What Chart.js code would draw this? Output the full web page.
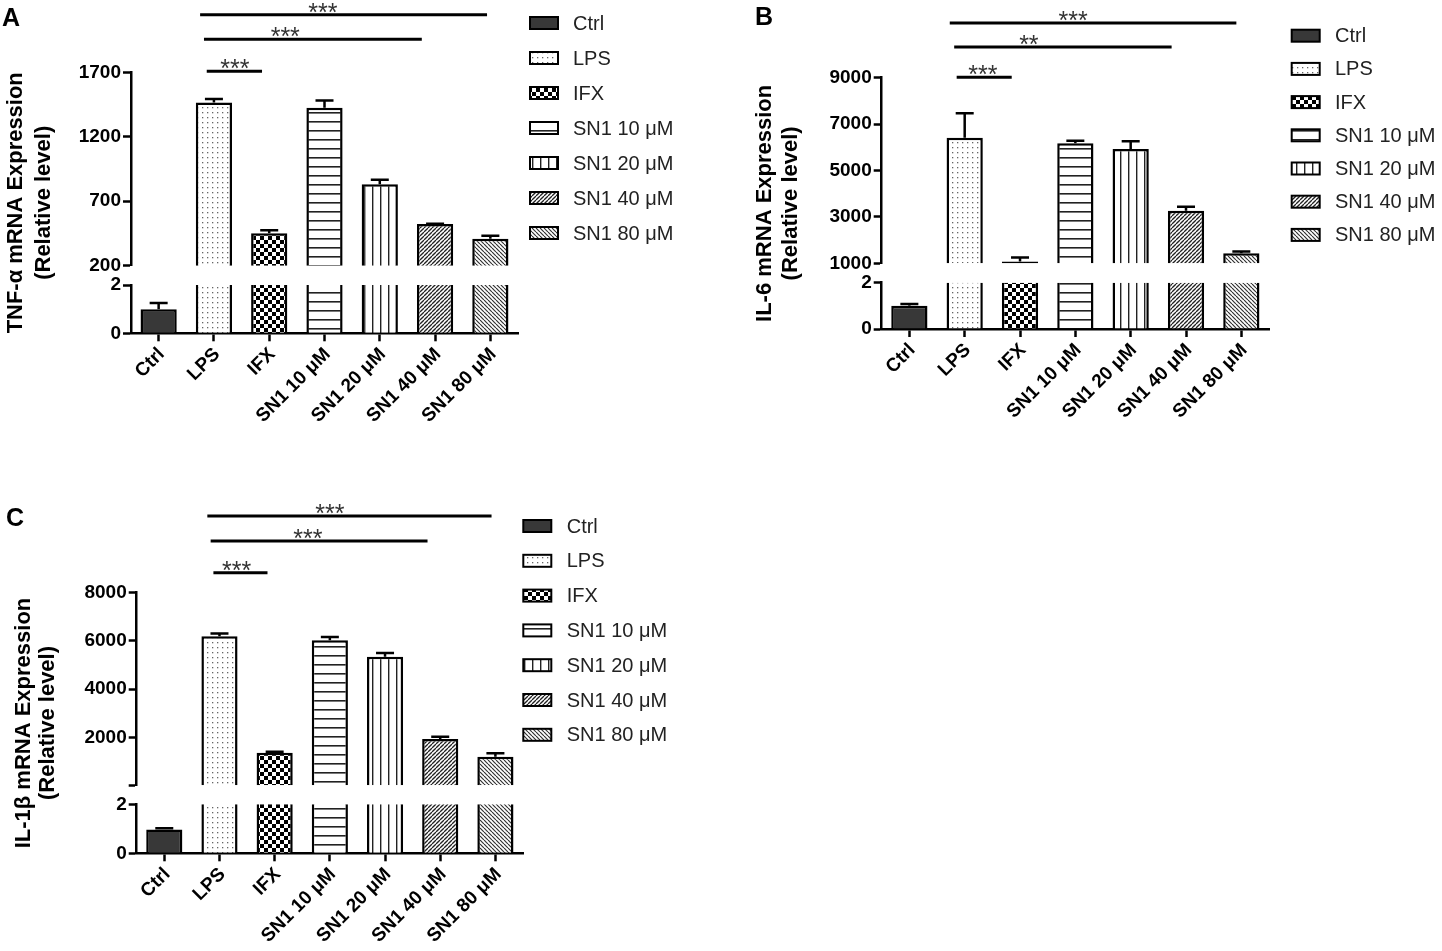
<!DOCTYPE html>
<html>
<head>
<meta charset="utf-8">
<script src="https://cdn.jsdelivr.net/npm/chart.js@4.4.1/dist/chart.umd.min.js"></script>
<style>
html,body{margin:0;padding:0;background:#fff;}
body{width:1442px;height:951px;position:relative;overflow:hidden;font-family:"Liberation Sans",Arial,sans-serif;}
canvas{position:absolute;}
.letter{position:absolute;font-weight:bold;font-size:25px;line-height:1;color:#000;}
</style>
</head>
<body>
<canvas id="cA" width="740" height="475" style="left:0;top:0"></canvas>
<canvas id="cB" width="702" height="475" style="left:740px;top:0"></canvas>
<canvas id="cC" width="740" height="471" style="left:0;top:480px"></canvas>
<div class="letter" style="left:2px;top:5px">A</div>
<div class="letter" style="left:755px;top:4px">B</div>
<div class="letter" style="left:6px;top:505px">C</div>
<script>
// ---------- data ----------
const categories = ['Ctrl', 'LPS', 'IFX', 'SN1 10 μM', 'SN1 20 μM', 'SN1 40 μM', 'SN1 80 μM'];

const tnfMean = [1.0, 1466, 451, 1425, 831, 523, 409];
const tnfSem  = [0.25, 26, 23, 57, 36, 3, 23];
const il6Mean = [1.0, 6414, 1075, 6172, 5927, 3267, 1430];
const il6Sem  = [0.08, 1050, 170, 110, 330, 170, 80];
const il1bMean = [0.97, 6200, 1366, 6033, 5342, 1934, 1201];
const il1bSem  = [0.05, 110, 40, 130, 160, 90, 140];

const lowTicks = [0, 2];
const lowLabels = ['0', '2'];
const tnfTopTicks = [200, 700, 1200, 1700];
const tnfTopLabels = ['200', '700', '1200', '1700'];
const il6TopTicks = [1000, 3000, 5000, 7000, 9000];
const il6TopLabels = ['1000', '3000', '5000', '7000', '9000'];
const il1bTopTicks = [0, 2000, 4000, 6000, 8000];
const il1bTopLabels = ['', '2000', '4000', '6000', '8000'];

const tnfTitle = ['TNF-α mRNA Expression', '(Relative level)'];
const il6Title = ['IL-6 mRNA Expression', '(Relative level)'];
const il1bTitle = ['IL-1β mRNA Expression', '(Relative level)'];

// significance brackets (category units / data units of the upper axis)
const tnfSigFrom = [0.87, 0.82, 0.75];
const tnfSigTo = [1.87, 4.76, 5.94];
const tnfSigLevel = [1708, 1956, 2147];
const tnfSigText = ['***', '***', '***'];
const tnfSigTextAt = [1.38, 2.29, 2.97];

const il6SigFrom = [0.855, 0.81, 0.73];
const il6SigTo = [1.85, 4.74, 5.91];
const il6SigLevel = [9017, 10323, 11358];
const il6SigText = ['***', '**', '***'];
const il6SigTextAt = [1.33, 2.16, 2.96];

const il1bSigFrom = [0.89, 0.84, 0.78];
const il1bSigTo = [1.87, 4.77, 5.93];
const il1bSigLevel = [8829, 10143, 11179];
const il1bSigText = ['***', '***', '***'];
const il1bSigTextAt = [1.31, 2.6, 3.0];

// ---------- styles ----------
const FONT = '"Liberation Sans", Arial, Helvetica, sans-serif';
Chart.defaults.font.family = FONT;
Chart.defaults.color = '#000';

function tile(w, h, draw) {
  const c = document.createElement('canvas');
  c.width = w; c.height = h;
  const g = c.getContext('2d');
  g.fillStyle = '#fff';
  g.fillRect(0, 0, w, h);
  draw(g, w, h);
  return g.createPattern(c, 'repeat');
}
function hatch(n, forward, lw, color) {
  return tile(n, n, (g) => {
    g.strokeStyle = color; g.lineWidth = lw;
    for (const k of [-n, 0, n]) {
      g.beginPath();
      if (forward) { g.moveTo(k, n); g.lineTo(k + n, 0); }
      else { g.moveTo(k, 0); g.lineTo(k + n, n); }
      g.stroke();
    }
  });
}
const fills = [
  '#383838',
  tile(5, 5, (g) => { g.fillStyle = '#666'; g.fillRect(2, 2, 1.3, 1.3); }),
  tile(8, 8, (g) => { g.fillStyle = '#000'; g.fillRect(0, 0, 4, 4); g.fillRect(4, 4, 4, 4); }),
  tile(4, 9, (g) => { g.fillStyle = '#222'; g.fillRect(0, 4, 4, 1.6); }),
  tile(8, 4, (g) => { g.fillStyle = '#222'; g.fillRect(4, 0, 1.4, 4); }),
  hatch(4, true, 1.3, '#222'),
  hatch(4, false, 1.2, '#333')
];
const LOW_MAX = lowTicks[lowTicks.length - 1];

// ---------- plugins ----------
const clipPlugin = {
  id: 'sectionClip',
  beforeDatasetDraw(chart, args) {
    const ys = chart.scales[args.meta.yAxisID];
    const a = chart.chartArea;
    const ctx = chart.ctx;
    ctx.save();
    ctx.beginPath();
    ctx.rect(a.left - 5, ys.top, a.right - a.left + 10, ys.bottom - ys.top);
    ctx.clip();
  },
  afterDatasetDraw(chart) { chart.ctx.restore(); }
};

function errPlugin(mean, sem) {
  return {
    id: 'errBars',
    afterDatasetsDraw(chart) {
      const ctx = chart.ctx, x = chart.scales.x, yT = chart.scales.yTop, yB = chart.scales.yBot;
      ctx.save();
      ctx.strokeStyle = '#000';
      ctx.lineWidth = 2.5;
      mean.forEach((m, i) => {
        const ys = m > LOW_MAX ? yT : yB;
        const px = x.getPixelForValue(i);
        const y0 = ys.getPixelForValue(m), y1 = ys.getPixelForValue(m + sem[i]);
        ctx.beginPath();
        ctx.moveTo(px, y0); ctx.lineTo(px, y1);
        ctx.moveTo(px - 9, y1); ctx.lineTo(px + 9, y1);
        ctx.stroke();
      });
      ctx.restore();
    }
  };
}

function sigPlugin(from, to, level, text, at) {
  return {
    id: 'sigBars',
    afterDraw(chart) {
      const ctx = chart.ctx, x = chart.scales.x, y = chart.scales.yTop;
      ctx.save();
      ctx.strokeStyle = '#000';
      ctx.lineWidth = 3;
      ctx.fillStyle = '#333';
      ctx.font = '25px ' + FONT;
      ctx.textAlign = 'center';
      ctx.textBaseline = 'alphabetic';
      level.forEach((lv, i) => {
        const py = y.getPixelForValue(lv);
        ctx.beginPath();
        ctx.moveTo(x.getPixelForValue(from[i]), py);
        ctx.lineTo(x.getPixelForValue(to[i]), py);
        ctx.stroke();
        ctx.fillText(text[i], x.getPixelForValue(at[i]), py + 6);
      });
      ctx.restore();
    }
  };
}

function legendPlugin(lg) {
  return {
    id: 'sideLegend',
    afterDraw(chart) {
      const ctx = chart.ctx;
      ctx.save();
      ctx.font = '20px ' + FONT;
      ctx.textBaseline = 'middle';
      ctx.textAlign = 'left';
      categories.forEach((c, i) => {
        const cy = lg.y0 + i * lg.dy;
        ctx.fillStyle = fills[i];
        ctx.fillRect(lg.lx, cy - 6, 28, 12);
        ctx.lineWidth = 2;
        ctx.strokeStyle = '#000';
        ctx.strokeRect(lg.lx, cy - 6, 28, 12);
        ctx.fillStyle = '#222';
        ctx.fillText(c, lg.tx, cy + 1);
      });
      ctx.restore();
    }
  };
}

// ---------- panel builder ----------
function makePanel(id, mean, sem, topTicks, topLabels, title, plugins, L) {
  const canvas = document.getElementById(id);
  const W = canvas.width, H = canvas.height;
  const titleW = 2 * L.titleLH + L.titlePad;
  const fixW = (s) => { s.width = L.axisX - titleW; };
  const tickFont = {size: 19, weight: 'bold'};
  const grid = () => ({display: true, drawOnChartArea: false, drawTicks: true, tickLength: 8, tickWidth: 2.5, tickColor: '#000'});
  const border = () => ({display: true, color: '#000', width: 2.5});
  const ds = (axis, values) => ({
    data: values, yAxisID: axis, xAxisID: 'x',
    backgroundColor: fills, borderColor: '#000', borderWidth: 2.5,
    borderSkipped: 'start', grouped: false, barPercentage: 0.655, categoryPercentage: 1
  });
  // bars whose value lies above the axis break are also shown in the upper section
  const upper = mean.map(v => (v > LOW_MAX ? v : null));
  return new Chart(canvas, {
    type: 'bar',
    data: {labels: categories, datasets: [ds('yTop', upper), ds('yBot', mean)]},
    options: {
      responsive: false,
      animation: false,
      events: [],
      layout: {padding: {left: 0, top: L.top, right: W - L.right, bottom: 0}},
      plugins: {
        legend: {display: false},
        tooltip: {enabled: false},
        title: {
          display: true, position: 'left', fullSize: false, text: title, color: '#000',
          font: {size: 22, weight: 'bold', lineHeight: L.titleLH / 22},
          padding: {top: L.titlePad, bottom: 0}
        }
      },
      scales: {
        x: {
          type: 'category', offset: true,
          grid: Object.assign(grid(), {offset: false}),
          border: border(),
          ticks: {font: {size: 19, weight: 'bold'}, color: '#000', minRotation: 45, maxRotation: 45, autoSkip: false, padding: 2, labelOffset: 3},
          afterFit: (s) => { s.height = H - L.bottom; }
        },
        yBot: {
          type: 'linear', position: 'left', stack: 'y', stackWeight: L.weights[2], weight: 1,
          min: lowTicks[0], max: LOW_MAX,
          afterBuildTicks: (s) => { s.ticks = lowTicks.map(v => ({value: v})); },
          ticks: {font: tickFont, color: '#000', padding: 2, callback: (v, i) => lowLabels[i]},
          grid: grid(), border: border(), afterFit: fixW
        },
        yGap: {
          type: 'linear', position: 'left', stack: 'y', stackWeight: L.weights[1], weight: 2,
          min: 0, max: 1,
          ticks: {display: false}, grid: {display: false, drawTicks: false}, border: {display: false},
          afterFit: fixW
        },
        yTop: {
          type: 'linear', position: 'left', stack: 'y', stackWeight: L.weights[0], weight: 3,
          min: topTicks[0], max: topTicks[topTicks.length - 1],
          afterBuildTicks: (s) => { s.ticks = topTicks.map(v => ({value: v})); },
          ticks: {font: tickFont, color: '#000', padding: 2, callback: (v, i) => topLabels[i]},
          grid: grid(), border: border(), afterFit: fixW
        }
      }
    },
    plugins: [clipPlugin].concat(plugins)
  });
}

makePanel('cA', tnfMean, tnfSem, tnfTopTicks, tnfTopLabels, tnfTitle,
  [errPlugin(tnfMean, tnfSem), sigPlugin(tnfSigFrom, tnfSigTo, tnfSigLevel, tnfSigText, tnfSigTextAt),
   legendPlugin({lx: 530, tx: 573, y0: 23, dy: 35})],
  {axisX: 131, right: 518, top: 72.3, bottom: 333.3, weights: [193.4, 19.3, 48.3], titleLH: 27.5, titlePad: 2.3});

makePanel('cB', il6Mean, il6Sem, il6TopTicks, il6TopLabels, il6Title,
  [errPlugin(il6Mean, il6Sem), sigPlugin(il6SigFrom, il6SigTo, il6SigLevel, il6SigText, il6SigTextAt),
   legendPlugin({lx: 551.7, tx: 595, y0: 35.7, dy: 33.2})],
  {axisX: 141.7, right: 529, top: 77.7, bottom: 329, weights: [185.6, 19.4, 46.3], titleLH: 26, titlePad: 12});

makePanel('cC', il1bMean, il1bSem, il1bTopTicks, il1bTopLabels, il1bTitle,
  [errPlugin(il1bMean, il1bSem), sigPlugin(il1bSigFrom, il1bSigTo, il1bSigLevel, il1bSigText, il1bSigTextAt),
   legendPlugin({lx: 523.3, tx: 566.7, y0: 46, dy: 34.8})],
  {axisX: 136.7, right: 523, top: 112.7, bottom: 373.3, weights: [193, 18.6, 49], titleLH: 23.5, titlePad: 12.3});
</script>
</body>
</html>
